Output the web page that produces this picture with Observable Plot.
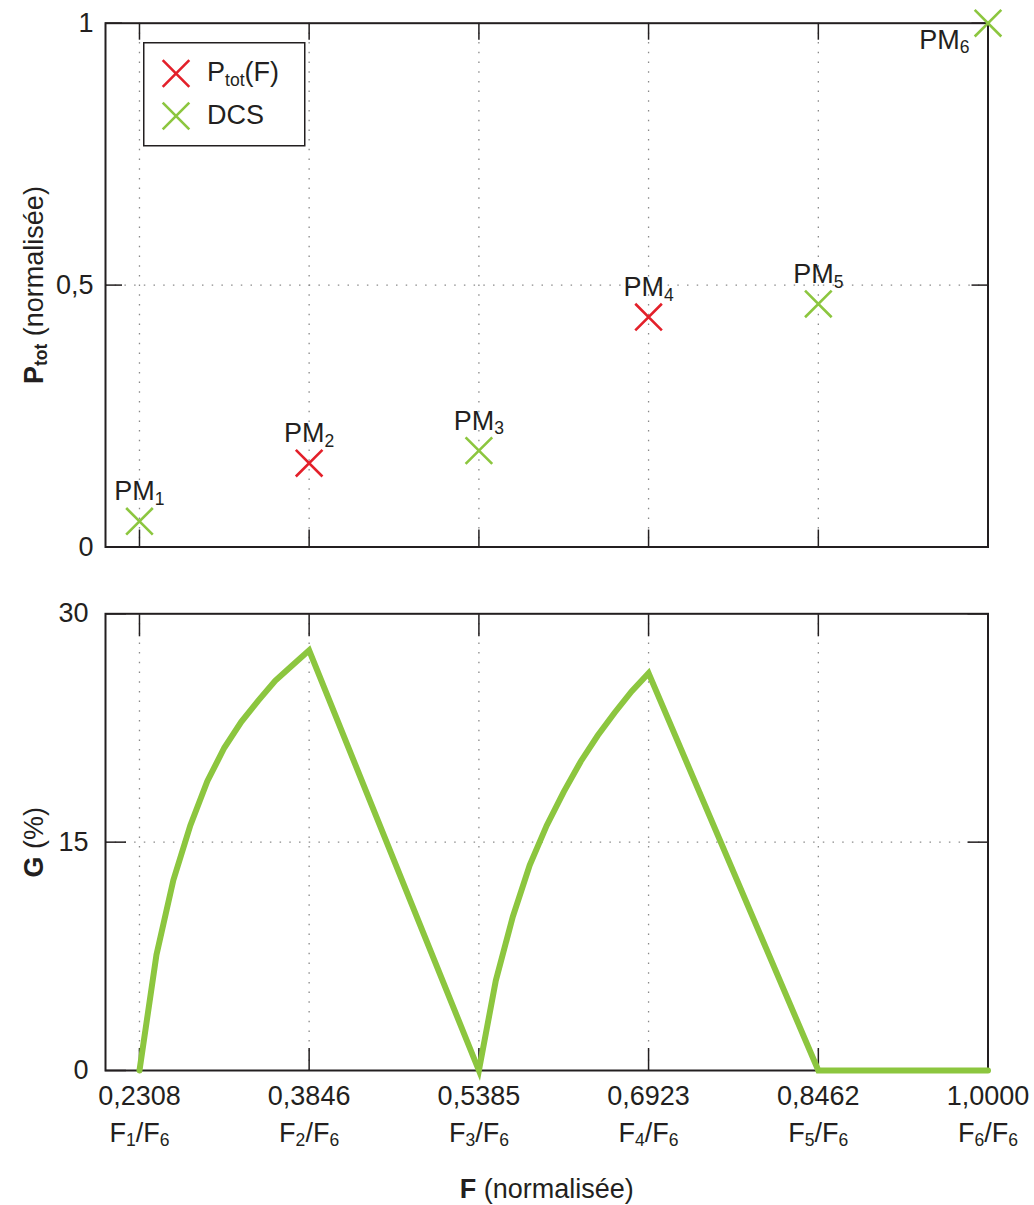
<!DOCTYPE html>
<html><head><meta charset="utf-8">
<script src="https://cdn.jsdelivr.net/npm/d3@7"></script>
<script src="https://cdn.jsdelivr.net/npm/@observablehq/plot@0.6"></script>
<style>
html,body{margin:0;padding:0;background:#fff;}
#wrap{position:relative;width:1034px;height:1205px;overflow:hidden;font-family:"Liberation Sans",Arial,sans-serif;}
#wrap svg text{white-space:pre;}
.panel{position:absolute;left:0;}
</style></head><body><div id="wrap"></div>
<script>
// ---- data ----
const xTicks = [0.2308, 0.3846, 0.5385, 0.6923, 0.8462, 1.0];
const xTickValues = ["0,2308", "0,3846", "0,5385", "0,6923", "0,8462", "1,0000"];
const xTickRatios = ["F_{1}/F_{6}", "F_{2}/F_{6}", "F_{3}/F_{6}", "F_{4}/F_{6}", "F_{5}/F_{6}", "F_{6}/F_{6}"];

const pmLabels = ["PM_{1}", "PM_{2}", "PM_{3}", "PM_{4}", "PM_{5}", "PM_{6}"];
const pmX = [0.2308, 0.3846, 0.5385, 0.6923, 0.8462, 1.0];
const pmY = [0.049, 0.160, 0.184, 0.439, 0.464, 1.0];
const pmSeries = ["DCS", "Ptot", "DCS", "Ptot", "DCS", "DCS"];

const seriesKeys = ["Ptot", "DCS"];
const seriesNames = ["P_{tot}(F)", "DCS"];
const seriesColors = ["#e3202a", "#8cc63f"];

const topYTicks = [0, 0.5, 1];
const topYTickLabels = ["0", "0,5", "1"];
const topYLabel = "*P_{tot}* (normalisée)";

const gX = [0.2308, 0.2462, 0.2615, 0.2769, 0.2923, 0.3077, 0.3231, 0.3385, 0.3538, 0.3692, 0.3846,
            0.5385, 0.5538, 0.5692, 0.5846, 0.6000, 0.6154, 0.6308, 0.6462, 0.6615, 0.6769, 0.6923,
            0.8462, 1.0000];
const gY = [0, 7.6, 12.5, 16.1, 19.0, 21.2, 22.9, 24.3, 25.6, 26.6, 27.6,
            0, 5.9, 10.1, 13.5, 16.1, 18.3, 20.3, 22.0, 23.5, 24.9, 26.1,
            0, 0];
const gColor = "#8cc63f";

const botYTicks = [0, 15, 30];
const botYTickLabels = ["0", "15", "30"];
const botYLabel = "*G* (%)";
const xLabel = "*F* (normalisée)";

// ---- helpers ----
const ink = "#231f20";
const FS = 27;
const font = "'Liberation Sans', Arial, sans-serif";
const gridStyle = {stroke: "#8a8a8a", strokeOpacity: 1, strokeWidth: 1.3, strokeDasharray: "1.5 8.2"};

function richify(root) {
  root.querySelectorAll("text").forEach(el => {
    if (el.querySelector("tspan")) return;
    const s = el.textContent;
    if (!/[_*]/.test(s)) return;
    const base = parseFloat(getComputedStyle(el).fontSize) || FS;
    const subSize = base * 0.65, shift = base * 0.17;
    const parts = []; let bold = false, buf = "";
    const flush = () => { if (buf) parts.push({t: buf, bold, sub: false}); buf = ""; };
    for (let i = 0; i < s.length;) {
      const c = s[i];
      if (c === "*") { flush(); bold = !bold; i++; }
      else if (c === "_" && s[i + 1] === "{") {
        flush(); const j = s.indexOf("}", i);
        parts.push({t: s.slice(i + 2, j), bold, sub: true}); i = j + 1;
      } else { buf += c; i++; }
    }
    flush();
    el.textContent = "";
    let cur = 0;
    for (const p of parts) {
      const ts = document.createElementNS("http://www.w3.org/2000/svg", "tspan");
      ts.textContent = p.t;
      if (p.bold) ts.setAttribute("font-weight", "bold");
      const target = p.sub ? shift : 0;
      if (target !== cur) { ts.setAttribute("dy", target - cur); cur = target; }
      if (p.sub) ts.setAttribute("font-size", subSize);
      el.appendChild(ts);
    }
  });
}

const wrap = document.getElementById("wrap");
const xDomain = [0.2, 1.0];

// ---- top panel ----
const pts = pmX.map((x, i) => ({x, y: pmY[i], series: pmSeries[i], label: pmLabels[i]}));
const topPlot = Plot.plot({
  width: 1034, height: 580,
  marginLeft: 105, marginRight: 46.5, marginTop: 22.7, marginBottom: 33.5,
  style: {fontFamily: font, fontSize: FS + "px", color: ink, background: "transparent", overflow: "visible"},
  x: {domain: xDomain},
  y: {domain: [0, 1]},
  color: {domain: seriesKeys, range: seriesColors},
  marks: [
    Plot.gridX({ticks: xTicks, ...gridStyle}),
    Plot.gridY({ticks: [0.5], ...gridStyle}),
    Plot.frame({stroke: ink, strokeWidth: 2}),
    Plot.axisX({anchor: "bottom", ticks: xTicks, tickSize: -17, tickFormat: () => "", label: null, stroke: ink, strokeWidth: 1.5}),
    Plot.axisX({anchor: "top", ticks: xTicks, tickSize: -16, tickFormat: () => "", label: null, stroke: ink, strokeWidth: 1.5}),
    Plot.axisY({anchor: "left", ticks: topYTicks, tickSize: -17, tickFormat: () => "", label: null, stroke: ink, strokeWidth: 1.5}),
    Plot.axisY({anchor: "right", ticks: topYTicks, tickSize: -17, tickFormat: () => "", label: null, stroke: ink, strokeWidth: 1.5}),
    Plot.axisY({anchor: "left", ticks: topYTicks, tickSize: 0, tickPadding: 12, label: null, fontSize: FS,
      tickFormat: d => topYTickLabels[topYTicks.indexOf(d)]}),
    Plot.dot(pts, {x: "x", y: "y", stroke: "series", symbol: "times", r: 12.15, strokeWidth: 2.6}),
    Plot.text(pts, {filter: (d, i) => i < 5, x: "x", y: "y", text: "label", fontSize: FS, fill: ink,
      textAnchor: "middle", lineAnchor: "bottom", dy: -21}),
    Plot.text(pts, {filter: (d, i) => i === 5, x: "x", y: "y", text: "label", fontSize: FS, fill: ink,
      textAnchor: "end", lineAnchor: "bottom", dx: -18.5, dy: 25.6}),
    Plot.text([topYLabel], {frameAnchor: "left", text: d => d, rotate: -90, textAnchor: "middle",
      lineAnchor: "bottom", dx: -63, fontSize: FS, fill: ink})
  ]
});
topPlot.classList.add("panel");
topPlot.style.top = "0px";
wrap.appendChild(topPlot);

// ---- bottom panel ----
const gData = gX.map((x, i) => ({x, g: gY[i]}));
const botPlot = Plot.plot({
  width: 1034, height: 625,
  marginLeft: 105, marginRight: 46.5, marginTop: 33.3, marginBottom: 135,
  style: {fontFamily: font, fontSize: FS + "px", color: ink, background: "transparent", overflow: "visible"},
  x: {domain: xDomain},
  y: {domain: [0, 30]},
  marks: [
    Plot.gridX({ticks: xTicks, ...gridStyle}),
    Plot.gridY({ticks: [15], ...gridStyle}),
    Plot.frame({stroke: ink, strokeWidth: 2}),
    Plot.axisX({anchor: "bottom", ticks: xTicks, tickSize: -22, tickFormat: () => "", label: null, stroke: ink, strokeWidth: 1.5}),
    Plot.axisX({anchor: "top", ticks: xTicks, tickSize: -22, tickFormat: () => "", label: null, stroke: ink, strokeWidth: 1.5}),
    Plot.axisY({anchor: "left", ticks: botYTicks, tickSize: -21, tickFormat: () => "", label: null, stroke: ink, strokeWidth: 1.5}),
    Plot.axisY({anchor: "right", ticks: botYTicks, tickSize: -21, tickFormat: () => "", label: null, stroke: ink, strokeWidth: 1.5}),
    Plot.axisY({anchor: "left", ticks: botYTicks, tickSize: 0, tickPadding: 17, label: null, fontSize: FS,
      tickFormat: d => botYTickLabels[botYTicks.indexOf(d)]}),
    Plot.axisX({anchor: "bottom", ticks: xTicks, tickSize: 0, tickPadding: 15, label: null, fontSize: FS,
      tickFormat: d => xTickValues[xTicks.indexOf(d)]}),
    Plot.axisX({anchor: "bottom", ticks: xTicks, tickSize: 0, tickPadding: 52, label: null, fontSize: FS,
      tickFormat: d => xTickRatios[xTicks.indexOf(d)]}),
    Plot.line(gData, {x: "x", y: "g", stroke: gColor, strokeWidth: 6, strokeLinejoin: "miter", strokeMiterlimit: 10}),
    Plot.text([botYLabel], {frameAnchor: "left", text: d => d, rotate: -90, textAnchor: "middle",
      lineAnchor: "bottom", dx: -63, fontSize: FS, fill: ink}),
    Plot.text([xLabel], {frameAnchor: "bottom", text: d => d, textAnchor: "middle",
      lineAnchor: "bottom", dy: 127, fontSize: FS, fill: ink})
  ]
});
botPlot.classList.add("panel");
botPlot.style.top = "580px";
wrap.appendChild(botPlot);

// ---- legend ----
const leg = d3.select(wrap).append("svg")
  .attr("width", 163).attr("height", 105)
  .style("position", "absolute").style("left", "143px").style("top", "42px");
leg.append("rect").attr("x", 0.75).attr("y", 0.75).attr("width", 161).attr("height", 103)
  .attr("fill", "#fff").attr("stroke", ink).attr("stroke-width", 1.5);
seriesNames.forEach((name, i) => {
  const cy = 31.5 + i * 42.5;
  leg.append("path").attr("transform", `translate(33,${cy})`)
    .attr("d", "M-13.3,-13.3L13.3,13.3M-13.3,13.3L13.3,-13.3")
    .attr("stroke", seriesColors[i]).attr("stroke-width", 2.6).attr("fill", "none");
  leg.append("text").attr("x", 64).attr("y", cy + 7.5)
    .attr("font-family", font).attr("font-size", FS).attr("fill", ink).text(name);
});

richify(wrap);
</script>
</body></html>
